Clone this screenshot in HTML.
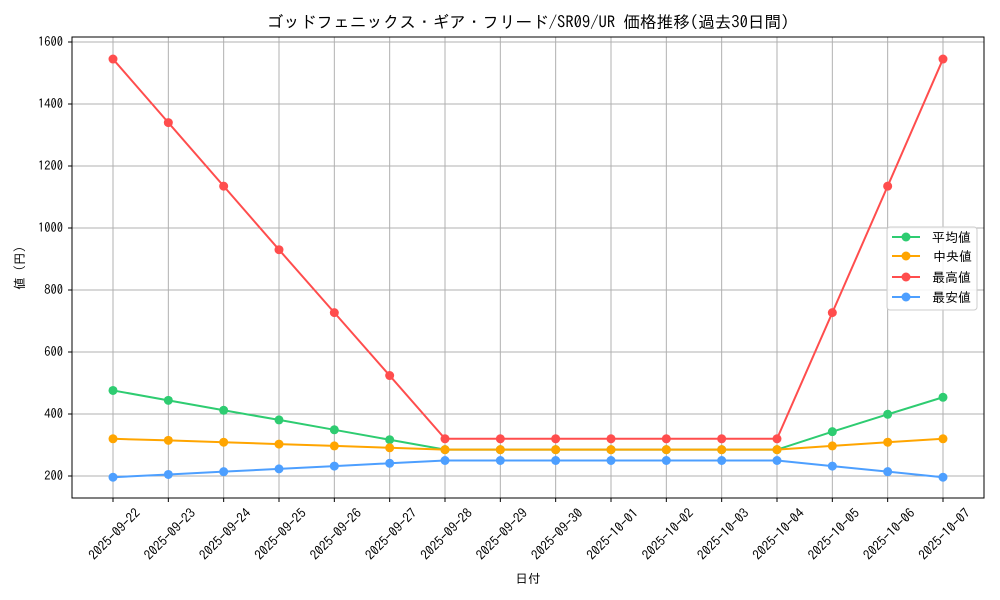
<!DOCTYPE html>
<html><head><meta charset="utf-8"><style>body{margin:0;background:#fff}svg{display:block}text{font-family:"IPAGothic","Noto Sans CJK JP",sans-serif}</style></head>
<body>
<svg id="s" width="1000" height="600" xmlns="http://www.w3.org/2000/svg">
<rect width="1000" height="600" fill="#fff"/>
<g id="grid"></g>
<rect x="72" y="37" width="912" height="461" fill="none" stroke="#000" stroke-width="1"/>
<text x="528" y="28" font-size="16.6" text-anchor="middle">ゴッドフェニックス・ギア・フリード/SR09/UR 価格推移(過去30日間)</text>
<text x="528" y="583" font-size="12.5" text-anchor="middle">日付</text>
<text transform="translate(24,268) rotate(-90)" font-size="12.5" text-anchor="middle">値 (円)</text>
<g font-size="12.5" text-anchor="end">
<text x="63" y="480">200</text><text x="63" y="418">400</text><text x="63" y="356">600</text><text x="63" y="294">800</text><text x="63" y="232">1000</text><text x="63" y="170">1200</text><text x="63" y="108">1400</text><text x="63" y="46">1600</text>
</g>
<g id="xl" font-size="13.2" text-anchor="end">
<text data-i="0">2025-09-22</text><text data-i="1">2025-09-23</text><text data-i="2">2025-09-24</text><text data-i="3">2025-09-25</text><text data-i="4">2025-09-26</text><text data-i="5">2025-09-27</text><text data-i="6">2025-09-28</text><text data-i="7">2025-09-29</text><text data-i="8">2025-09-30</text><text data-i="9">2025-10-01</text><text data-i="10">2025-10-02</text><text data-i="11">2025-10-03</text><text data-i="12">2025-10-04</text><text data-i="13">2025-10-05</text><text data-i="14">2025-10-06</text><text data-i="15">2025-10-07</text>
</g>
<g id="series"></g>
<g>
<rect x="887" y="227" width="90" height="83" rx="3" fill="#fff" fill-opacity="0.85" stroke="#ccc"/>
<line x1="892" y1="237" x2="920" y2="237" stroke="#2ecc71" stroke-width="2"/><circle cx="906" cy="237" r="4.5" fill="#2ecc71"/><text x="932" y="242" font-size="13">平均値</text>
<line x1="892" y1="256" x2="920" y2="256" stroke="#ffa500" stroke-width="2"/><circle cx="906" cy="256" r="4.5" fill="#ffa500"/><text x="933" y="261" font-size="13">中央値</text>
<line x1="892" y1="277" x2="920" y2="277" stroke="#ff4d4d" stroke-width="2"/><circle cx="906" cy="277" r="4.5" fill="#ff4d4d"/><text x="932" y="282" font-size="13">最高値</text>
<line x1="892" y1="297" x2="920" y2="297" stroke="#4d9fff" stroke-width="2"/><circle cx="906" cy="297" r="4.5" fill="#4d9fff"/><text x="932" y="302" font-size="13">最安値</text>
</g>
</svg>
<script>
var NS="http://www.w3.org/2000/svg";
function X(i){return 113+i*55.333;}
function Y(v){return 476-(v-200)*0.31;}
function el(t,a,p){var e=document.createElementNS(NS,t);for(var k in a)e.setAttribute(k,a[k]);p.appendChild(e);return e;}
var g=document.getElementById("grid");
for(var i=0;i<16;i++){el("line",{x1:X(i),x2:X(i),y1:37,y2:498,stroke:"#b0b0b0","stroke-width":1},g);el("line",{x1:X(i),x2:X(i),y1:498,y2:502,stroke:"#000"},g);}
for(var v=200;v<=1600;v+=200){el("line",{x1:72,x2:984,y1:Y(v),y2:Y(v),stroke:"#b0b0b0","stroke-width":1},g);el("line",{x1:68,x2:72,y1:Y(v),y2:Y(v),stroke:"#000"},g);}
document.querySelectorAll("#xl text").forEach(function(t){var i=+t.getAttribute("data-i");var x=X(i)+28,y=514;t.setAttribute("x",x);t.setAttribute("y",y);t.setAttribute("transform","rotate(-45 "+x+" "+y+")");});
var S=[
["#2ecc71",[476,444,412,381,349,317,285,285,285,285,285,285,285,343,399,454]],
["#ffa500",[320,315,309,303,297,291,285,285,285,285,285,285,285,297,309,320]],
["#ff4d4d",[1545,1340,1135,930,727,524,320,320,320,320,320,320,320,727,1135,1545]],
["#4d9fff",[196,205,214,223,232,241,250,250,250,250,250,250,250,232,214,196]]];
var sg=document.getElementById("series");
S.forEach(function(s){var pts=s[1].map(function(v,i){return X(i)+","+Y(v)}).join(" ");
el("polyline",{points:pts,fill:"none",stroke:s[0],"stroke-width":2},sg);
s[1].forEach(function(v,i){el("circle",{cx:X(i),cy:Y(v),r:4.5,fill:s[0]},sg);});});
</script>
</body></html>
